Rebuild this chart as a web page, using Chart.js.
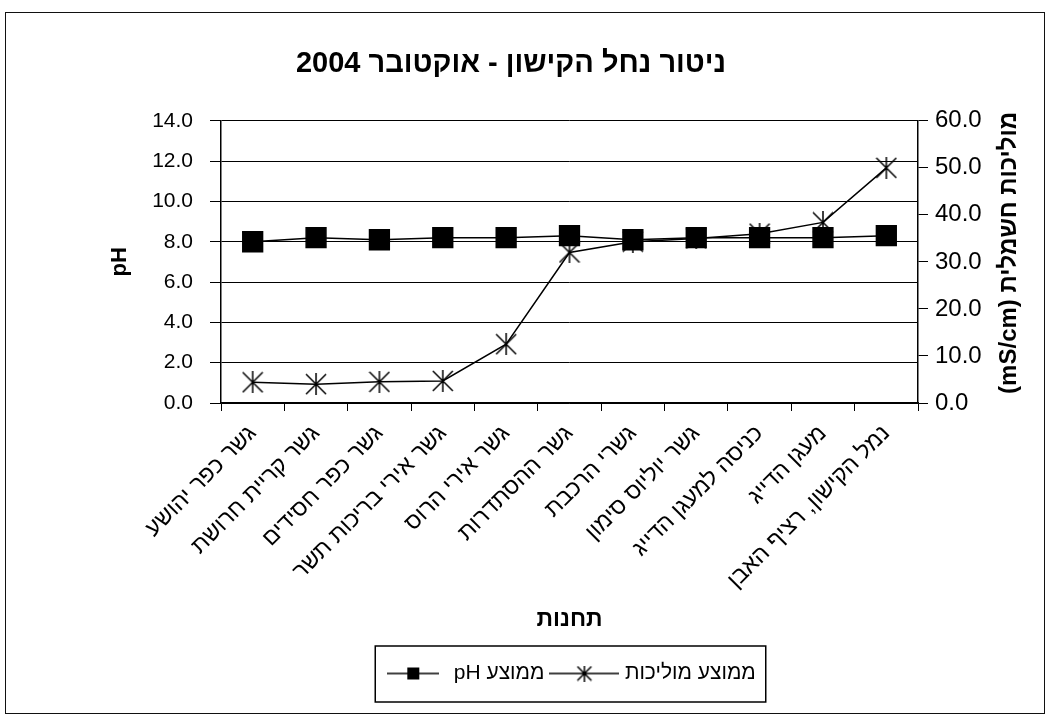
<!DOCTYPE html>
<html lang="he">
<head>
<meta charset="utf-8">
<title>ניטור נחל הקישון - אוקטובר 2004</title>
<script src="https://cdn.jsdelivr.net/npm/chart.js@4.4.1/dist/chart.umd.min.js"></script>
<style>
  html, body { margin: 0; padding: 0; background: #fff; }
  #wrap { position: relative; width: 1056px; height: 721px; }
  #frame { position: absolute; left: 5px; top: 12px; width: 1040px; height: 702px; border: 1.5px solid #111; box-sizing: border-box; }
  #kishonChart { position: absolute; left: 0; top: 0; }
</style>
</head>
<body>
<div id="wrap">
  <div id="frame"></div>
  <canvas id="kishonChart" width="1056" height="721"></canvas>
</div>
<script>
// Chart data
const chartTitle = 'ניטור נחל הקישון - אוקטובר 2004';
const stations = [
  'גשר כפר יהושע',
  'גשר קריית חרושת',
  'גשר כפר חסידים',
  'גשר אירי בריכות תשר',
  'גשר אירי הרוס',
  'גשר ההסתדרות',
  'גשרי הרכבת',
  'גשר יוליוס סימון',
  'כניסה למעגן הדייג',
  'מעגן הדייג',
  'נמל הקישון, רציף האבן'
];
const phValues = [8.0, 8.2, 8.1, 8.2, 8.2, 8.3, 8.1, 8.2, 8.2, 8.2, 8.3];
const conductivityValues = [4.4, 4.0, 4.5, 4.7, 12.5, 32.0, 34.3, 35.0, 36.0, 38.4, 50.0];
const phLabel = 'ממוצע pH';
const conductivityLabel = 'ממוצע מוליכות';
const xTitle = 'תחנות';
const phTitle = 'pH';
const conductivityTitle = 'מוליכות חשמלית (mS/cm)';
const phRange = [0, 14, 2];
const conductivityRange = [0, 60, 10];

const FONT = 'Arial, "Liberation Sans", "DejaVu Sans", sans-serif';
Chart.defaults.font.family = FONT;
Chart.defaults.color = '#000';

// Marker pictures: star = X with a vertical bar, like the old Excel marker
function makeStar(size, lineLen) {
  const w = lineLen || size;
  const c = document.createElement('canvas');
  c.width = w; c.height = size;
  const g = c.getContext('2d');
  g.strokeStyle = '#000';
  g.lineWidth = 1.5;
  const cx = w / 2, r = size / 2 - 1;
  g.beginPath();
  if (lineLen) { g.moveTo(0, size / 2); g.lineTo(w, size / 2); }
  g.moveTo(cx - r, size / 2 - r); g.lineTo(cx + r, size / 2 + r);
  g.moveTo(cx + r, size / 2 - r); g.lineTo(cx - r, size / 2 + r);
  g.moveTo(cx, 0); g.lineTo(cx, size);
  g.stroke();
  return c;
}

function makeSquareSymbol(w, h, side) {
  const c = document.createElement('canvas');
  c.width = w; c.height = h;
  const g = c.getContext('2d');
  g.strokeStyle = '#000';
  g.lineWidth = 1.5;
  g.beginPath(); g.moveTo(0, h / 2); g.lineTo(w, h / 2); g.stroke();
  g.fillStyle = '#000';
  g.fillRect(w / 2 - side / 2, h / 2 - side / 2, side, side);
  return c;
}

const starMarker = makeStar(22);
const legendSymbols = [makeSquareSymbol(52, 16, 12), makeStar(16, 70)];

// Box round the legend
const legendFrame = {
  id: 'legendFrame',
  afterDraw(chart) {
    const boxes = chart.legend && chart.legend.legendHitBoxes;
    if (!boxes || !boxes.length) return;
    const left = Math.min(...boxes.map(b => b.left)) - 8;
    const right = Math.max(...boxes.map(b => b.left + b.width)) + 10;
    const top = Math.min(...boxes.map(b => b.top)) - 17;
    const bottom = Math.max(...boxes.map(b => b.top + b.height)) + 18;
    const ctx = chart.ctx;
    ctx.save();
    ctx.strokeStyle = '#000';
    ctx.lineWidth = 1.5;
    ctx.strokeRect(left, top, right - left, bottom - top);
    ctx.restore();
  }
};

// Right axis title, read bottom to top like the left one
const rightAxisTitle = {
  id: 'rightAxisTitle',
  afterDraw(chart) {
    const { ctx, chartArea } = chart;
    ctx.save();
    ctx.translate(1009, (chartArea.top + chartArea.bottom) / 2 - 9);
    ctx.rotate(-Math.PI / 2);
    ctx.direction = 'rtl';
    ctx.font = 'bold 24px ' + FONT;
    ctx.fillStyle = '#000';
    ctx.textAlign = 'center';
    ctx.textBaseline = 'middle';
    ctx.fillText(conductivityTitle, 0, 0);
    ctx.restore();
  }
};

const ctx = document.getElementById('kishonChart').getContext('2d');

new Chart(ctx, {
  type: 'line',
  data: {
    labels: stations,
    datasets: [
      {
        label: phLabel,
        data: phValues,
        yAxisID: 'y',
        borderColor: '#000',
        borderWidth: 1.5,
        backgroundColor: '#000',
        pointStyle: 'rect',
        pointRadius: 14,
        pointHoverRadius: 14,
        pointBackgroundColor: '#000',
        pointBorderColor: '#000',
        tension: 0
      },
      {
        label: conductivityLabel,
        data: conductivityValues,
        yAxisID: 'y1',
        borderColor: '#000',
        borderWidth: 1.5,
        pointStyle: starMarker,
        pointRadius: 11,
        tension: 0
      }
    ]
  },
  options: {
    responsive: false,
    animation: false,
    layout: { padding: { left: 0, right: 34, top: 0, bottom: 27 } },
    plugins: {
      title: {
        display: true,
        text: chartTitle,
        color: '#000',
        font: { size: 29, weight: 'bold' },
        padding: { top: 47, bottom: 39 }
      },
      legend: {
        position: 'bottom',
        fullSize: false,
        textDirection: 'rtl',
        labels: {
          usePointStyle: true,
          pointStyleWidth: 60,
          font: { size: 21 },
          color: '#000',
          padding: 10,
          generateLabels: chart => chart.data.datasets.map((ds, i) => ({
            text: ds.label,
            pointStyle: legendSymbols[i],
            fontColor: '#000',
            fillStyle: 'transparent',
            strokeStyle: 'transparent',
            lineWidth: 0,
            hidden: !chart.isDatasetVisible(i),
            datasetIndex: i
          }))
        }
      },
      tooltip: { enabled: true }
    },
    scales: {
      x: {
        offset: true,
        afterFit: s => { s.height = 250; },
        grid: { offset: true, drawOnChartArea: false, color: '#000', tickLength: 8 },
        border: { display: true, color: '#000', width: 1.5 },
        ticks: { autoSkip: false, minRotation: 45, maxRotation: 45, padding: 9, font: { size: 23 }, color: '#000' },
        title: { display: true, text: xTitle, color: '#000', font: { size: 23, weight: 'bold' }, padding: { top: 0, bottom: 20 } }
      },
      y: {
        position: 'left',
        min: phRange[0],
        max: phRange[1],
        afterFit: s => { s.width = 221; },
        grid: { color: '#000', lineWidth: 1, tickLength: 11 },
        border: { display: true, color: '#000', width: 1.5 },
        ticks: { stepSize: phRange[2], padding: 17, font: { size: 21 }, color: '#000', callback: v => v.toFixed(1) },
        title: { display: true, text: phTitle, color: '#000', font: { size: 22, weight: 'bold' }, padding: { top: 107, bottom: 0 } }
      },
      y1: {
        position: 'right',
        min: conductivityRange[0],
        max: conductivityRange[1],
        afterFit: s => { s.width = 104; },
        grid: { drawOnChartArea: false, color: '#000', tickLength: 10 },
        border: { display: true, color: '#000', width: 1.5 },
        ticks: { stepSize: conductivityRange[2], padding: 7, font: { size: 24 }, color: '#000', callback: v => v.toFixed(1) },
        title: { display: false }
      }
    }
  },
  plugins: [legendFrame, rightAxisTitle]
});
</script>
</body>
</html>
